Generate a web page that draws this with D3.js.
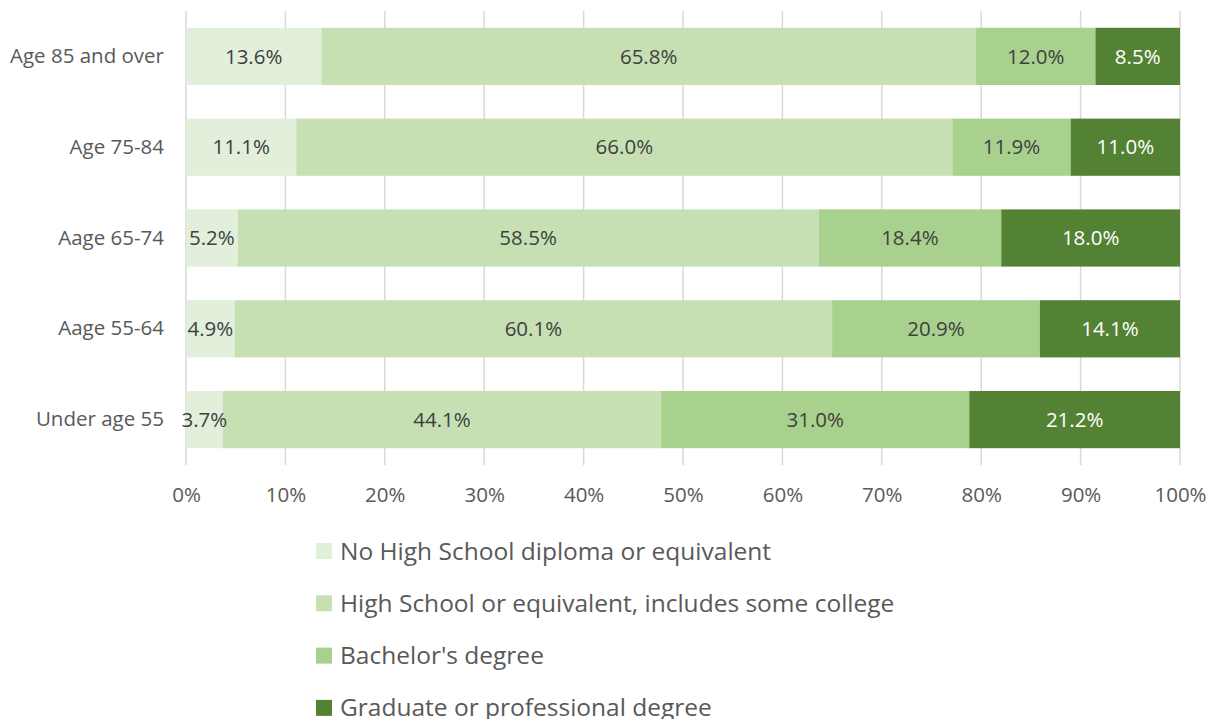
<!DOCTYPE html>
<html>
<head>
<meta charset="utf-8">
<title>Education by age group</title>
<script src="https://d3js.org/d3.v7.min.js"></script>
<style>
  body { margin: 0; background: #fff; }
  text { font-family: "Open Sans", sans-serif; fill: #595959; }
</style>
</head>
<body>
<svg width="1214" height="719"></svg>
<script>
// categories, top to bottom
const groups = ["Age 85 and over", "Age 75-84", "Aage 65-74", "Aage 55-64", "Under age 55"];
const series = [
  "No High School diploma or equivalent",
  "High School or equivalent, includes some college",
  "Bachelor's degree",
  "Graduate or professional degree"
];
// values per series (percent), same order as groups
const noHighSchool = [13.6, 11.1, 5.2, 4.9, 3.7];
const highSchool   = [65.8, 66.0, 58.5, 60.1, 44.1];
const bachelor     = [12.0, 11.9, 18.4, 20.9, 31.0];
const graduate     = [8.5, 11.0, 18.0, 14.1, 21.2];
const xTicks = [0, 0.1, 0.2, 0.3, 0.4, 0.5, 0.6, 0.7, 0.8, 0.9, 1];
const colors = ["#E2EFDA", "#C6E0B4", "#A9D18E", "#548235"];

const rows = groups.map((g, i) => ({
  group: g,
  [series[0]]: noHighSchool[i],
  [series[1]]: highSchool[i],
  [series[2]]: bachelor[i],
  [series[3]]: graduate[i]
}));

const svg = d3.select("svg");
const plot = {left: 186, right: 1180, top: 11, bottom: 465};

const x = d3.scaleLinear().domain([0, 1]).range([plot.left, plot.right]);
const y = d3.scaleBand().domain(groups).range([plot.top, plot.bottom])
  .paddingInner(0.37).paddingOuter(0.185);
const color = d3.scaleOrdinal().domain(series).range(colors);

const stacked = d3.stack().keys(series).offset(d3.stackOffsetExpand)(rows);

// gridlines
svg.append("g")
  .selectAll("line")
  .data(xTicks)
  .join("line")
  .attr("x1", d => x(d)).attr("x2", d => x(d))
  .attr("y1", plot.top).attr("y2", plot.bottom)
  .attr("stroke", "#D9D9D9")
  .attr("stroke-width", 1.5);

// bars
const layer = svg.append("g")
  .selectAll("g")
  .data(stacked)
  .join("g")
  .attr("fill", d => color(d.key));

layer.selectAll("rect")
  .data(d => d)
  .join("rect")
  .attr("x", d => x(d[0]))
  .attr("y", d => y(d.data.group))
  .attr("width", d => x(d[1]) - x(d[0]))
  .attr("height", y.bandwidth());

// data labels
svg.append("g")
  .selectAll("g")
  .data(stacked)
  .join("g")
  .selectAll("text")
  .data(d => d.map(p => ({p, key: d.key})))
  .join("text")
  .attr("x", d => (x(d.p[0]) + x(d.p[1])) / 2)
  .attr("y", d => y(d.p.data.group) + y.bandwidth() / 2)
  .attr("dy", "0.35em")
  .attr("text-anchor", "middle")
  .attr("font-size", 20.5)
  .style("fill", d => d.key === series[3] ? "#ffffff" : "#404040")
  .text(d => d.p.data[d.key].toFixed(1) + "%");

// x axis labels
const xAxis = svg.append("g")
  .attr("transform", `translate(0,${plot.bottom + 8})`)
  .call(d3.axisBottom(x).tickValues(xTicks).tickFormat(d3.format(".0%")).tickSize(0).tickPadding(14));
xAxis.select(".domain").remove();
xAxis.selectAll("text").attr("font-size", 20.5).style("font-family", null);

// y axis labels
const yAxis = svg.append("g")
  .attr("transform", `translate(${plot.left - 22},0)`)
  .call(d3.axisLeft(y).tickSize(0).tickPadding(0));
yAxis.select(".domain").remove();
yAxis.selectAll("text").attr("font-size", 20.5).style("font-family", null);
svg.selectAll(".tick text").attr("fill", null);

// legend
const legend = svg.append("g")
  .selectAll("g")
  .data(series)
  .join("g")
  .attr("transform", (d, i) => `translate(316,${551 + i * 52.3})`);
legend.append("rect")
  .attr("x", 0).attr("y", -8)
  .attr("width", 16).attr("height", 16)
  .attr("fill", d => color(d));
legend.append("text")
  .attr("x", 24)
  .attr("dy", "0.35em")
  .attr("font-size", 24.5)
  .text(d => d);
</script>
</body>
</html>
